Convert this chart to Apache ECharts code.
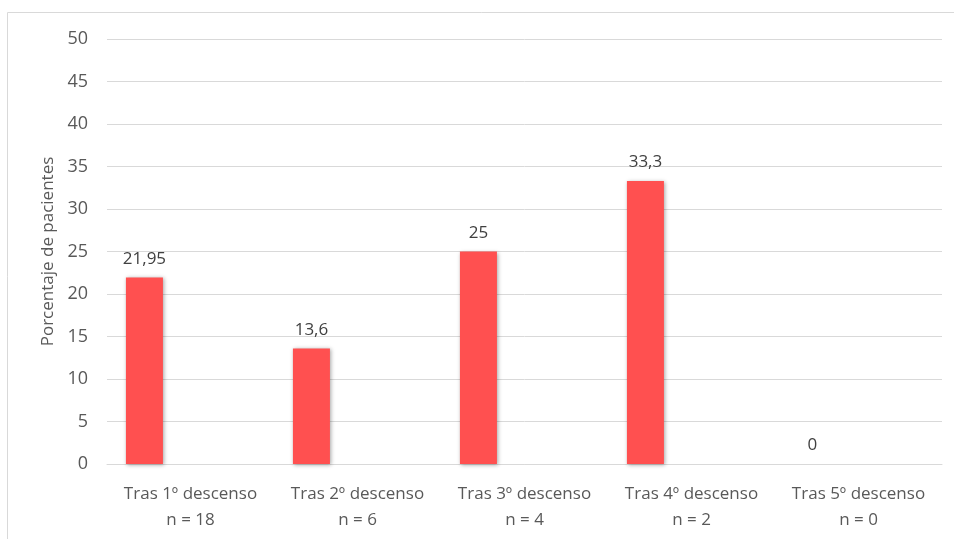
<!DOCTYPE html>
<html>
<head>
<meta charset="utf-8">
<script src="https://cdn.jsdelivr.net/npm/echarts@6/dist/echarts.min.js"></script>
<style>
  html, body { margin: 0; padding: 0; background: #fff; }
  #chart { width: 954px; height: 539px; }
</style>
</head>
<body>
<div id="chart"></div>
<script>
var categories = ['Tras 1º descenso\nn = 18', 'Tras 2º descenso\nn = 6', 'Tras 3º descenso\nn = 4', 'Tras 4º descenso\nn = 2', 'Tras 5º descenso\nn = 0'];
var porcentajes = [21.95, 13.6, 25, 33.3, 0];
var vacio = [null, null, null, null, null];
var yTicks = { min: 0, max: 50, interval: 5 };

var myChart = echarts.init(document.getElementById('chart'));
var fuente = '"Open Sans", sans-serif';

var option = {
  animation: false,
  grid: { left: 107, right: 12, top: 39, bottom: 75 },
  graphic: [{
    type: 'rect',
    shape: { x: 7.5, y: 12.5, width: 960, height: 600 },
    style: { fill: 'none', stroke: '#d9d9d9', lineWidth: 1 },
    silent: true
  }],
  xAxis: {
    type: 'category',
    data: categories,
    axisLine: { lineStyle: { color: '#d9d9d9', width: 1 } },
    axisTick: { show: false },
    axisLabel: {
      color: '#595959', fontFamily: fuente, fontSize: 17,
      lineHeight: 26, margin: 17, interval: 0
    }
  },
  yAxis: {
    type: 'value',
    min: yTicks.min, max: yTicks.max, interval: yTicks.interval,
    name: 'Porcentaje de pacientes',
    nameLocation: 'middle',
    nameGap: 50,
    nameTextStyle: { color: '#595959', fontFamily: fuente, fontSize: 17 },
    axisLine: { show: false },
    axisTick: { show: false },
    axisLabel: { color: '#595959', fontFamily: fuente, fontSize: 18, margin: 19 },
    splitLine: { lineStyle: { color: '#d9d9d9', width: 1 } }
  },
  series: [{
    type: 'bar',
    data: porcentajes,
    barWidth: 37,
    barGap: '149%',
    itemStyle: {
      color: '#ff5050',
      shadowColor: 'rgba(0,0,0,0.35)',
      shadowBlur: 4,
      shadowOffsetX: 1,
      shadowOffsetY: 1
    },
    label: {
      show: true,
      position: 'top',
      distance: 10,
      color: '#404040',
      fontFamily: fuente,
      fontSize: 17,
      formatter: function (p) { return String(p.value).replace('.', ','); }
    }
  }, {
    type: 'bar',
    data: vacio,
    barWidth: 37
  }]
};

myChart.setOption(option);
</script>
</body>
</html>
